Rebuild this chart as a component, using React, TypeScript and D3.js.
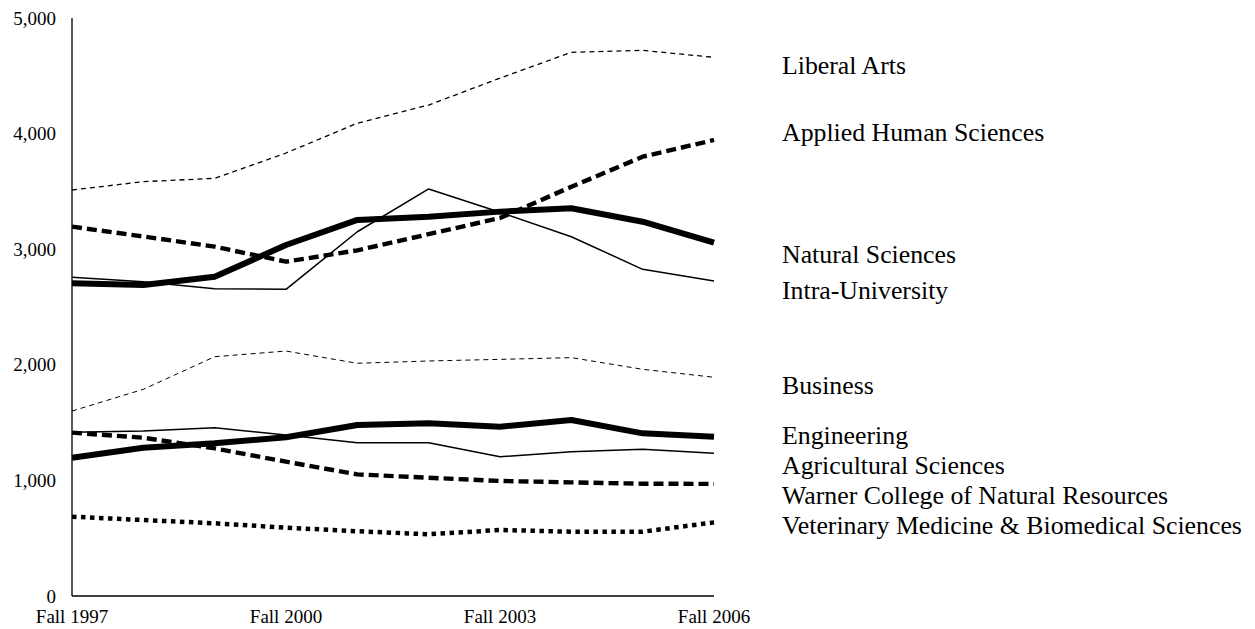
import React from "react";
import * as d3 from "d3";

const years = ["Fall 1997", "Fall 1998", "Fall 1999", "Fall 2000", "Fall 2001", "Fall 2002", "Fall 2003", "Fall 2004", "Fall 2005", "Fall 2006"];
const xTickLabels = ["Fall 1997", "Fall 2000", "Fall 2003", "Fall 2006"];
const yTicks = [0, 1000, 2000, 3000, 4000, 5000];

const liberalArts = [3512, 3584, 3613, 3832, 4090, 4247, 4480, 4703, 4720, 4660];
const appliedHuman = [3195, 3110, 3022, 2892, 2990, 3130, 3270, 3540, 3800, 3945];
const naturalSciences = [2705, 2690, 2762, 3036, 3253, 3281, 3325, 3354, 3238, 3056];
const intraUniversity = [2757, 2719, 2658, 2653, 3151, 3521, 3320, 3108, 2826, 2725];
const business = [1600, 1788, 2070, 2119, 2013, 2033, 2047, 2062, 1961, 1892];
const engineering = [1196, 1283, 1321, 1373, 1479, 1494, 1465, 1522, 1407, 1378];
const agricultural = [1416, 1427, 1456, 1393, 1326, 1326, 1205, 1248, 1269, 1234];
const warner = [1413, 1369, 1277, 1162, 1052, 1023, 995, 983, 971, 970];
const vetMed = [686, 657, 629, 591, 560, 534, 571, 556, 556, 637];

const seriesNames = [
  "Liberal Arts",
  "Applied Human Sciences",
  "Natural Sciences",
  "Intra-University",
  "Business",
  "Engineering",
  "Agricultural Sciences",
  "Warner College of Natural Resources",
  "Veterinary Medicine & Biomedical Sciences",
];
const seriesValues = [liberalArts, appliedHuman, naturalSciences, intraUniversity, business, engineering, agricultural, warner, vetMed];

// styles (width, dasharray)
const seriesStyles = [
  { w: 1.3, dash: "5,4" },
  { w: 4.4, dash: "10,5" },
  { w: 6, dash: "" },
  { w: 1.5, dash: "" },
  { w: 1.0, dash: "5,4" },
  { w: 6, dash: "" },
  { w: 1.5, dash: "" },
  { w: 4.4, dash: "10,5" },
  { w: 4.5, dash: "4.5,4.5" },
];
const labelBaselines = [73.5, 140.5, 262.5, 298.5, 393.5, 444, 474, 503.5, 533.5];

const W = 1255;
const H = 629;
const left = 72;
const right = 714;
const top = 18;
const bottom = 596;
const font = "'Liberation Serif', 'Times New Roman', serif";

export default function App() {
  const x = d3.scalePoint<string>().domain(years).range([left, right]);
  const y = d3.scaleLinear().domain([0, 5000]).range([bottom, top]);
  const line = d3
    .line<number>()
    .x((_, i) => x(years[i]) as number)
    .y((d) => y(d));
  const fmt = d3.format(",");

  const order = [4, 0, 3, 6, 1, 7, 8, 2, 5];

  return (
    <svg width={W} height={H} style={{ position: "absolute", left: 0, top: 0, background: "#fff" }}>
      <rect x={0} y={0} width={W} height={H} fill="#fff" />
      {order.map((i) => (
        <path
          key={seriesNames[i]}
          d={line(seriesValues[i]) || ""}
          fill="none"
          stroke="#000"
          strokeWidth={seriesStyles[i].w}
          strokeDasharray={seriesStyles[i].dash || undefined}
          strokeLinejoin="round"
        />
      ))}
      <line x1={left} x2={left} y1={y(5000)} y2={y(0)} stroke="#000" strokeWidth={1.3} />
      <line x1={left} x2={right} y1={y(0)} y2={y(0)} stroke="#000" strokeWidth={1.3} />
      {yTicks.map((t) => (
        <text key={t} x={56} y={y(t)} dy="0.35em" textAnchor="end" fontFamily={font} fontSize={19} fill="#000">
          {fmt(t)}
        </text>
      ))}
      {xTickLabels.map((t) => (
        <text key={t} x={x(t)} y={623} textAnchor="middle" fontFamily={font} fontSize={19} fill="#000">
          {t}
        </text>
      ))}
      {seriesNames.map((n, i) => (
        <text key={n} x={782} y={labelBaselines[i]} fontFamily={font} fontSize={25.8} fill="#000">
          {n}
        </text>
      ))}
    </svg>
  );
}
